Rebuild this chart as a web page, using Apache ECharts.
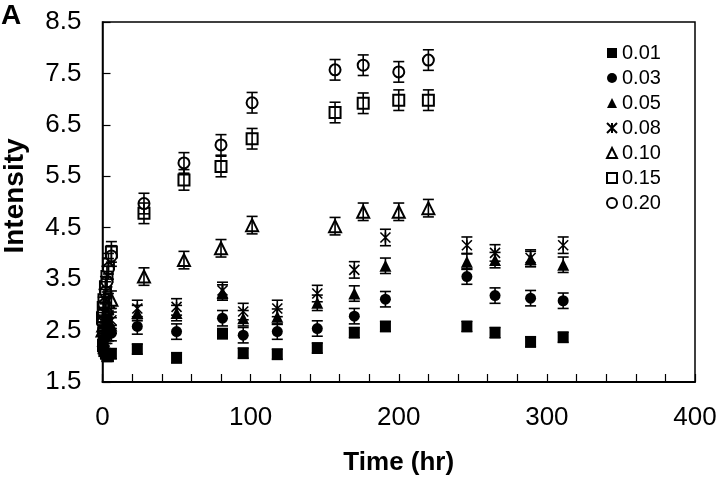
<!DOCTYPE html>
<html><head><meta charset="utf-8">
<script src="https://cdn.jsdelivr.net/npm/echarts@6/dist/echarts.min.js"></script>
<style>html,body{margin:0;padding:0;background:#fff}#c{width:720px;height:483px}</style>
</head><body><div id="c"></div>
<script>
// time points (hr)
const nearT = [0, 0.5, 1, 2, 3, 4, 6];
const lowT = [23.5, 50, 81, 95, 118, 145, 170, 191, 246, 265, 289, 311];
const highT = [28, 55, 80, 101, 157, 176, 200, 220];
const seriesNames = ['0.01', '0.03', '0.05', '0.08', '0.10', '0.15', '0.20'];
// intensities: near-zero block, then later block
const near001 = [2.2, 2.15, 2.1, 2.05, 2.0, 2.0, 2.05];
const near003 = [2.25, 2.3, 2.35, 2.4, 2.4, 2.45, 2.45];
const near005 = [2.3, 2.4, 2.45, 2.5, 2.55, 2.6, 2.6];
const near008 = [2.35, 2.45, 2.5, 2.55, 2.6, 2.65, 2.7];
const near010 = [2.5, 2.6, 2.75, 2.85, 2.95, 3.05, 3.1];
const near015 = [2.75, 2.95, 3.1, 3.35, 3.55, 3.8, 4.03];
const near020 = [2.65, 2.85, 3.0, 3.25, 3.45, 3.7, 3.95];
const late001 = [2.14, 1.97, 2.44, 2.06, 2.04, 2.16, 2.46, 2.58, 2.58, 2.46, 2.28, 2.37];
const late003 = [2.58, 2.48, 2.74, 2.41, 2.48, 2.54, 2.78, 3.11, 3.55, 3.18, 3.13, 3.08];
const late005 = [2.84, 2.84, 3.24, 2.74, 2.77, 3.04, 3.22, 3.76, 3.84, 3.87, 3.89, 3.78];
const late008 = [2.93, 2.96, 3.28, 2.87, 2.93, 3.22, 3.68, 4.31, 4.16, 4.01, 3.91, 4.16];
const late010 = [3.55, 3.87, 4.10, 4.55, 4.53, 4.81, 4.81, 4.88];
const late015 = [4.78, 5.43, 5.69, 6.23, 6.74, 6.92, 6.98, 6.98];
const late020 = [4.97, 5.76, 6.11, 6.93, 7.57, 7.66, 7.53, 7.76];
// error bar half-widths per series
const errs = [0.10, 0.15, 0.15, 0.16, 0.17, 0.20, 0.20];
const yTicks = [1.5, 2.5, 3.5, 4.5, 5.5, 6.5, 7.5, 8.5];
const xTicks = [0, 100, 200, 300, 400];

const nearVals = [near001, near003, near005, near008, near010, near015, near020];
const lateVals = [late001, late003, late005, late008, late010, late015, late020];
const lateTimes = [lowT, lowT, lowT, lowT, highT, highT, highT];

const asterisk = 'path://M0,0L10,10M10,0L0,10M5,0L5,10';
const symbols = ['rect', 'circle', 'triangle', asterisk, 'emptyTriangle', 'emptyRect', 'emptyCircle'];
const sizes = [11, 11, 12, 10, 12, 11, 11];
const FONT = 'Liberation Sans, Arial, sans-serif';

const series = [];
seriesNames.forEach((name, i) => {
  const pts = nearT.map((t, k) => [t, nearVals[i][k]])
    .concat(lateTimes[i].map((t, k) => [t, lateVals[i][k]]));
  const isPath = i === 3;
  series.push({
    name: name, type: 'scatter', z: 2,
    symbol: symbols[i], symbolSize: sizes[i],
    itemStyle: isPath ? {color: 'rgba(0,0,0,0)', borderColor: '#000', borderWidth: 1.6, opacity: 1}
                      : {color: '#000', borderColor: '#000', borderWidth: (i >= 4 ? 1.5 : 0), opacity: 1},
    emphasis: {disabled: true},
    data: pts
  });
  series.push({
    name: name + '_err', type: 'custom', z: 3, silent: true,
    data: pts.map(p => [p[0], p[1] - errs[i], p[1] + errs[i]]),
    encode: {x: 0, y: [1, 2]},
    renderItem: function (params, api) {
      const lo = api.coord([api.value(0), api.value(1)]);
      const hi = api.coord([api.value(0), api.value(2)]);
      const w = 5.5;
      const st = {stroke: '#000', lineWidth: 1.6};
      return {type: 'group', children: [
        {type: 'line', shape: {x1: lo[0], y1: lo[1], x2: hi[0], y2: hi[1]}, style: st},
        {type: 'line', shape: {x1: lo[0] - w, y1: lo[1], x2: lo[0] + w, y2: lo[1]}, style: st},
        {type: 'line', shape: {x1: hi[0] - w, y1: hi[1], x2: hi[0] + w, y2: hi[1]}, style: st}
      ]};
    }
  });
});

const chart = echarts.init(document.getElementById('c'), null, {renderer: 'canvas'});
chart.setOption({
  animation: false,
  backgroundColor: '#fff',
  graphic: [{type: 'text', left: 1, top: 2,
    style: {text: 'A', font: "bold 28px 'Liberation Sans'", fill: '#000'}}],
  legend: {
    data: seriesNames, orient: 'vertical', left: 606, top: 43,
    itemWidth: 10, itemHeight: 10, itemGap: 5, padding: 0,
    textStyle: {fontFamily: FONT, fontSize: 20, color: '#000', lineHeight: 20},
    selectedMode: false
  },
  grid: {left: 102.5, right: 25, top: 22, bottom: 101, show: true,
    borderColor: '#000', borderWidth: 1.5, containLabel: false, outerBoundsMode: 'none'},
  xAxis: {
    type: 'value', min: xTicks[0], max: xTicks[xTicks.length - 1], interval: 100,
    name: 'Time (hr)', nameLocation: 'middle', nameGap: 68,
    nameTextStyle: {fontFamily: FONT, fontSize: 26, fontWeight: 'bold', color: '#000', lineHeight: 26},
    axisLine: {show: true, onZero: false, lineStyle: {color: '#000', width: 1.8}},
    axisTick: {show: true, inside: true, length: 8, lineStyle: {color: '#000', width: 1.2}},
    minorTick: {show: true, splitNumber: 5, length: 8, lineStyle: {color: '#000', width: 1.2}},
    axisLabel: {fontFamily: FONT, fontSize: 26, color: '#000', margin: 23, lineHeight: 26},
    splitLine: {show: false}, minorSplitLine: {show: false}
  },
  yAxis: {
    type: 'value', min: yTicks[0], max: yTicks[yTicks.length - 1], interval: 1,
    name: 'Intensity', nameLocation: 'middle', nameGap: 73,
    nameTextStyle: {fontFamily: FONT, fontSize: 28, fontWeight: 'bold', color: '#000',
      padding: [0, 0, 0, 12]},
    axisLine: {show: true, onZero: false, lineStyle: {color: '#000', width: 1.5}},
    axisTick: {show: true, inside: true, length: 8, lineStyle: {color: '#000', width: 1.2}},
    axisLabel: {fontFamily: FONT, fontSize: 26, color: '#000', margin: 21,
      formatter: v => v.toFixed(1)},
    splitLine: {show: false}
  },
  series: series
});
</script>
</body></html>
